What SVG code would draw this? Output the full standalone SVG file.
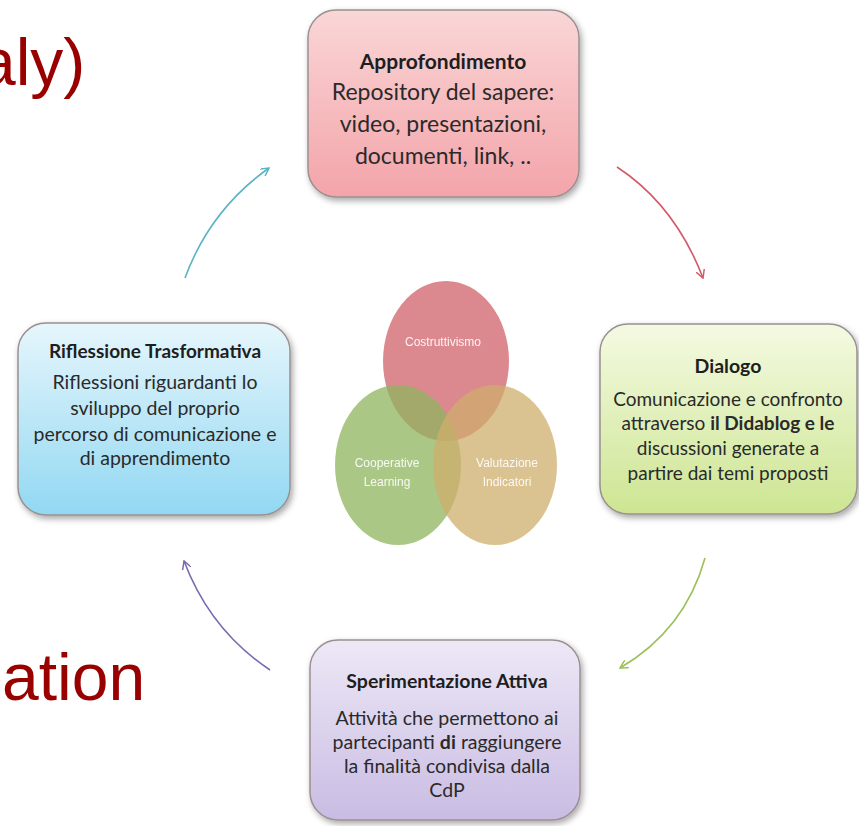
<svg xmlns="http://www.w3.org/2000/svg" width="859" height="826" viewBox="0 0 859 826">
<defs>
<style>
.title{font-family:Lato,"Liberation Sans",sans-serif;font-weight:bold;fill:#1e1e1e;text-anchor:middle}
.body{font-family:Lato,"Liberation Sans",sans-serif;fill:#2a2a2a;text-anchor:middle}
.big{font-family:"Liberation Sans",Arial,sans-serif;fill:#990000;font-size:66px}
.venn{font-family:"Liberation Sans Narrow","Liberation Sans",sans-serif;fill:#ffffff;font-size:12px;text-anchor:middle;opacity:0.9}
.box{stroke:#9a9090;stroke-width:1.5;filter:url(#sh)}
.arr{fill:none;stroke-width:1.6}
</style>
<filter id="sh" x="-10%" y="-10%" width="125%" height="130%">
<feDropShadow dx="2" dy="3" stdDeviation="3" flood-color="#000" flood-opacity="0.35"/>
</filter>
<linearGradient id="gRed" x1="0" y1="0" x2="0" y2="1"><stop offset="0" stop-color="#fad6d6"/><stop offset="1" stop-color="#f3a4aa"/></linearGradient>
<linearGradient id="gGreen" x1="0" y1="0" x2="0" y2="1"><stop offset="0" stop-color="#f4fae2"/><stop offset="1" stop-color="#cde592"/></linearGradient>
<linearGradient id="gPurple" x1="0" y1="0" x2="0" y2="1"><stop offset="0" stop-color="#ede8f6"/><stop offset="1" stop-color="#c9bce3"/></linearGradient>
<linearGradient id="gBlue" x1="0" y1="0" x2="0" y2="1"><stop offset="0" stop-color="#e6f6fc"/><stop offset="1" stop-color="#92d8f2"/></linearGradient>
<marker id="mCyan" viewBox="0 0 10 10" refX="9" refY="5" markerWidth="9" markerHeight="9" orient="auto" markerUnits="userSpaceOnUse"><path d="M0,0 L9,5 L0,10" fill="none" stroke="#5ab4c4" stroke-width="1.6"/></marker>
<marker id="mRed" viewBox="0 0 10 10" refX="9" refY="5" markerWidth="9" markerHeight="9" orient="auto" markerUnits="userSpaceOnUse"><path d="M0,0 L9,5 L0,10" fill="none" stroke="#d45868" stroke-width="1.6"/></marker>
<marker id="mGreen" viewBox="0 0 10 10" refX="9" refY="5" markerWidth="9" markerHeight="9" orient="auto" markerUnits="userSpaceOnUse"><path d="M0,0 L9,5 L0,10" fill="none" stroke="#9cbf5a" stroke-width="1.6"/></marker>
<marker id="mPurple" viewBox="0 0 10 10" refX="9" refY="5" markerWidth="9" markerHeight="9" orient="auto" markerUnits="userSpaceOnUse"><path d="M0,0 L9,5 L0,10" fill="none" stroke="#7a6aae" stroke-width="1.6"/></marker>
</defs>
<rect width="859" height="826" fill="#ffffff"/>

<text class="big" x="-21" y="85">aly)</text>
<text class="big" x="2" y="700">ation</text>

<g id="connectors">
<path class="arr" stroke="#5ab4c4" d="M185,278 Q210,210 269,168" marker-end="url(#mCyan)"/>
<path class="arr" stroke="#d45868" d="M617,167 Q675,205 703,278" marker-end="url(#mRed)"/>
<path class="arr" stroke="#9cbf5a" d="M705,558 Q685,630 620,668" marker-end="url(#mGreen)"/>
<path class="arr" stroke="#7a6aae" d="M270,670 Q210,630 184,561" marker-end="url(#mPurple)"/>
</g>

<g id="approfondimento">
<rect class="box" x="308" y="10" width="271" height="187" rx="28" fill="url(#gRed)"/>
<text class="title" x="443" y="69" font-size="21">Approfondimento</text>
<text class="body" x="443" y="100" font-size="23">Repository del sapere:</text>
<text class="body" x="443" y="132" font-size="23">video, presentazioni,</text>
<text class="body" x="443" y="164" font-size="23">documenti, link, ..</text>
</g>

<g id="dialogo">
<rect class="box" x="600" y="324" width="257" height="190" rx="28" fill="url(#gGreen)"/>
<text class="title" x="728" y="373" font-size="19.5">Dialogo</text>
<text class="body" x="728" y="406" font-size="19">Comunicazione e confronto</text>
<text class="body" x="728" y="430" font-size="19">attraverso <tspan font-weight="bold">il Didablog  e le</tspan></text>
<text class="body" x="728" y="455" font-size="19">discussioni generate a</text>
<text class="body" x="728" y="480" font-size="19">partire dai temi proposti</text>
</g>

<g id="sperimentazione">
<rect class="box" x="310" y="640" width="270" height="180" rx="28" fill="url(#gPurple)"/>
<text class="title" x="447" y="688" font-size="19.5">Sperimentazione Attiva</text>
<text class="body" x="447" y="725" font-size="19.5">Attività che permettono ai</text>
<text class="body" x="447" y="749" font-size="19.5">partecipanti <tspan font-weight="bold">di</tspan> raggiungere</text>
<text class="body" x="447" y="773" font-size="19.5">la finalità condivisa dalla</text>
<text class="body" x="447" y="797" font-size="19.5">CdP</text>
</g>

<g id="riflessione">
<rect class="box" x="18" y="323" width="272" height="192" rx="28" fill="url(#gBlue)"/>
<text class="title" x="155" y="358" font-size="19">Riflessione Trasformativa</text>
<text class="body" x="155" y="389" font-size="19.5">Riflessioni riguardanti lo</text>
<text class="body" x="155" y="415" font-size="19.5">sviluppo del proprio</text>
<text class="body" x="155" y="441" font-size="19.5">percorso di comunicazione e</text>
<text class="body" x="155" y="465" font-size="19.5">di apprendimento</text>
</g>

<g id="venn">
<ellipse cx="446" cy="361" rx="63" ry="80" fill="#d0606a" fill-opacity="0.75"/>
<ellipse cx="398" cy="465" rx="63" ry="80" fill="#8fb45e" fill-opacity="0.75"/>
<ellipse cx="495" cy="465" rx="62" ry="80" fill="#cfad6c" fill-opacity="0.75"/>
<text class="venn" x="443" y="346">Costruttivismo</text>
<text class="venn" x="387" y="467">Cooperative</text>
<text class="venn" x="387" y="486">Learning</text>
<text class="venn" x="507" y="467">Valutazione</text>
<text class="venn" x="507" y="486">Indicatori</text>
</g>
</svg>
